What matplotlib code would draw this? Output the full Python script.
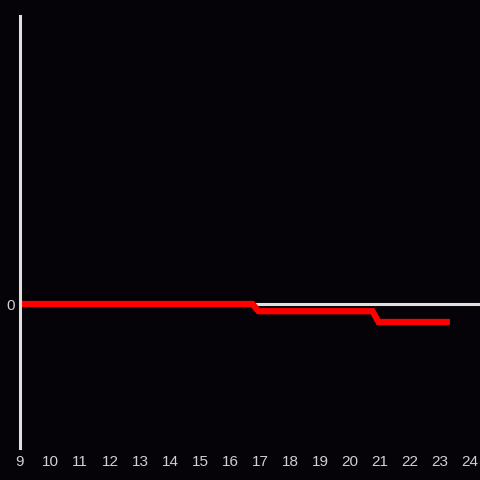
import matplotlib
matplotlib.use("Agg")
import matplotlib.pyplot as plt

x_vals = [9, 16.75, 16.95, 20.75, 20.95, 23.33]
y_vals = [0, 0, -0.05, -0.05, -0.125, -0.125]
x_ticks = list(range(9, 25))
y_ticks = [0]

bg = "#050307"
fig = plt.figure(figsize=(4.8, 4.8), dpi=100, facecolor=bg)
ax = fig.add_axes([20/480, 32/480, 460/480, 432/480], facecolor=bg)
ax.set_xlim(9, 9 + 460/30)
ax.set_ylim(-1, 2)

ax.axhline(0, color="#e0e0e0", lw=2.2, zorder=1)
ax.plot(x_vals, y_vals, color="#ff0000", lw=4.5, solid_joinstyle="miter",
        solid_capstyle="butt", zorder=2)

for s in ["top", "right", "bottom"]:
    ax.spines[s].set_visible(False)
ax.spines["left"].set_color("#e0e0e0")
ax.spines["left"].set_linewidth(2.2)

ax.set_xticks(x_ticks)
ax.set_xticklabels([str(t) for t in x_ticks])
ax.set_yticks(y_ticks)
ax.set_yticklabels(["0"])
ax.tick_params(axis="both", length=0, colors="#d0d0d0", labelsize=11)
ax.tick_params(axis="x", pad=5)
ax.tick_params(axis="y", pad=4)
for lab in ax.get_xticklabels() + ax.get_yticklabels():
    lab.set_family("Liberation Sans")

fig.savefig("out.png", dpi=100, facecolor=bg)
